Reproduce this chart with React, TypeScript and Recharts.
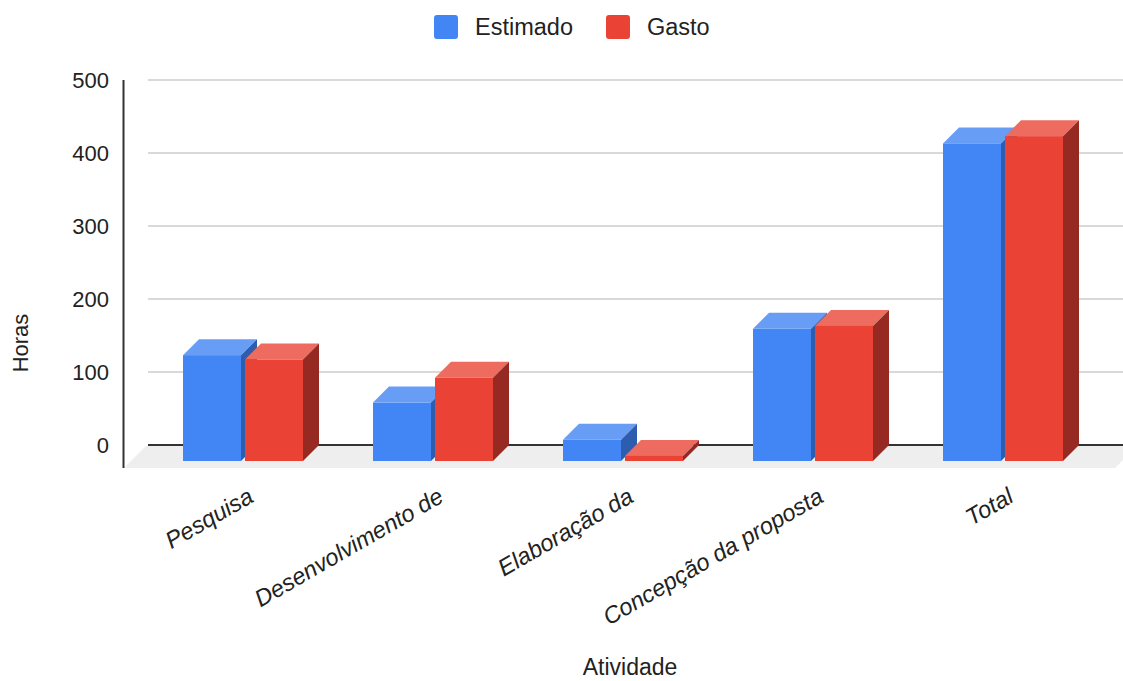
import React from 'react';
import { BarChart, Bar, XAxis, YAxis, CartesianGrid } from 'recharts';

// ---- data ----
const categories = ['Pesquisa', 'Desenvolvimento de', 'Elaboração da', 'Concepção da proposta', 'Total'];
const estimado = [145, 80, 29, 181, 435];
const gasto = [139, 114, 7, 185, 445];
const yTicks = [0, 100, 200, 300, 400, 500];
const seriesKeys = ['estimado', 'gasto'];
const seriesNames = ['Estimado', 'Gasto'];

const data = categories.map((name, i) => ({ name, estimado: estimado[i], gasto: gasto[i] }));

// ---- layout / style ----
const W = 1123;
const H = 681;
const TOP = 80;
const X_AXIS_H = 236;
const PLOT_BOTTOM = H - X_AXIS_H;
const DEPTH = 16;
const FONT = "Arial, 'Liberation Sans', Helvetica, sans-serif";
const TEXT = '#222222';

const palette: Record<string, { front: string; top: string; side: string }> = {
  estimado: { front: '#4285F4', top: '#689DF6', side: '#2C5DAE' },
  gasto: { front: '#EA4335', top: '#EE6B5F', side: '#962A23' },
};

const make3D = (c: { front: string; top: string; side: string }) => (props: any) => {
  const { x, y, width, height } = props;
  if (x == null || y == null || !width) return <g />;
  const d = DEPTH;
  const fx = x - d;
  const fy = y + d;
  const h = Math.max(0, height);
  return (
    <g>
      <polygon points={`${fx},${fy} ${x},${y} ${x + width},${y} ${fx + width},${fy}`} fill={c.top} />
      <polygon
        points={`${fx + width},${fy} ${x + width},${y} ${x + width},${y + h} ${fx + width},${fy + h}`}
        fill={c.side}
      />
      <rect x={fx} y={fy} width={width} height={h} fill={c.front} />
    </g>
  );
};

const GridLine = (props: any) => {
  const { x1, x2, y1 } = props;
  const isZero = Math.abs(y1 - PLOT_BOTTOM) < 0.75;
  if (!isZero) {
    return <line x1={x1} x2={x2} y1={y1} y2={y1} stroke="#cccccc" strokeWidth={1.5} />;
  }
  const fd = 22;
  return (
    <g>
      <polygon
        points={`${x1 - 2},${y1 + 1} ${x2 + 14},${y1 + 1} ${x2 + 14 - fd},${y1 + 1 + fd} ${x1 - 2 - fd},${y1 + 1 + fd}`}
        fill="#eeeeee"
      />
      <line x1={x1} x2={x2} y1={y1} y2={y1} stroke="#333333" strokeWidth={2} />
      <line x1={x1 - 24.5} x2={x1 - 24.5} y1={TOP} y2={y1 + 1 + fd} stroke="#333333" strokeWidth={2} />
    </g>
  );
};

const YTick = (props: any) => {
  const { y, payload } = props;
  return (
    <text x={109} y={y} dy="0.36em" textAnchor="end" fontSize={22} fill={TEXT} fontFamily={FONT}>
      {payload.value}
    </text>
  );
};

const XTick = (props: any) => {
  const { x, payload } = props;
  const tx = x - 4;
  const ty = PLOT_BOTTOM + 56;
  return (
    <text
      x={tx}
      y={ty}
      textAnchor="end"
      transform={`rotate(-30 ${tx} ${ty})`}
      fontStyle="italic"
      fontSize={23.5}
      fill={TEXT}
      fontFamily={FONT}
    >
      {payload.value}
    </text>
  );
};

const XTitle = () => (
  <text x={630} y={675} textAnchor="middle" fontSize={23} fill={TEXT} fontFamily={FONT}>
    Atividade
  </text>
);

const YTitle = () => (
  <text
    x={27.5}
    y={343}
    textAnchor="middle"
    transform="rotate(-90 27.5 343)"
    fontSize={22}
    fill={TEXT}
    fontFamily={FONT}
  >
    Horas
  </text>
);

const LegendBox = () => (
  <div
    style={{
      position: 'absolute',
      left: 434,
      top: 15,
      display: 'flex',
      alignItems: 'center',
      fontFamily: FONT,
      fontSize: 23.5,
      color: TEXT,
      height: 24,
    }}
  >
    {seriesKeys.map((k, i) => (
      <div key={k} style={{ display: 'flex', alignItems: 'center', marginRight: i === 0 ? 33 : 0 }}>
        <div style={{ width: 24, height: 24, borderRadius: 3, background: palette[k].front, marginRight: 17 }} />
        <span style={{ lineHeight: '24px' }}>{seriesNames[i]}</span>
      </div>
    ))}
  </div>
);

export default function App() {
  return (
    <div style={{ position: 'absolute', left: 0, top: 0, width: W, height: H, background: '#fff' }}>
      <BarChart
        width={W}
        height={H}
        data={data}
        margin={{ top: TOP, right: 0, left: 0, bottom: 0 }}
        barSize={58}
        barGap={4}
      >
        <CartesianGrid vertical={false} horizontal={(p: any) => <GridLine {...p} />} />
        <XAxis
          dataKey="name"
          height={X_AXIS_H}
          padding={{ left: 16, right: 9 }}
          tickLine={false}
          axisLine={false}
          interval={0}
          tick={<XTick />}
          label={<XTitle />}
        />
        <YAxis
          type="number"
          domain={[0, 500]}
          ticks={yTicks}
          width={148}
          tickLine={false}
          axisLine={false}
          tick={<YTick />}
          label={<YTitle />}
        />
        <Bar dataKey="estimado" name="Estimado" fill={palette.estimado.front} shape={make3D(palette.estimado)} isAnimationActive={false} />
        <Bar dataKey="gasto" name="Gasto" fill={palette.gasto.front} shape={make3D(palette.gasto)} isAnimationActive={false} />
      </BarChart>
      <LegendBox />
    </div>
  );
}
